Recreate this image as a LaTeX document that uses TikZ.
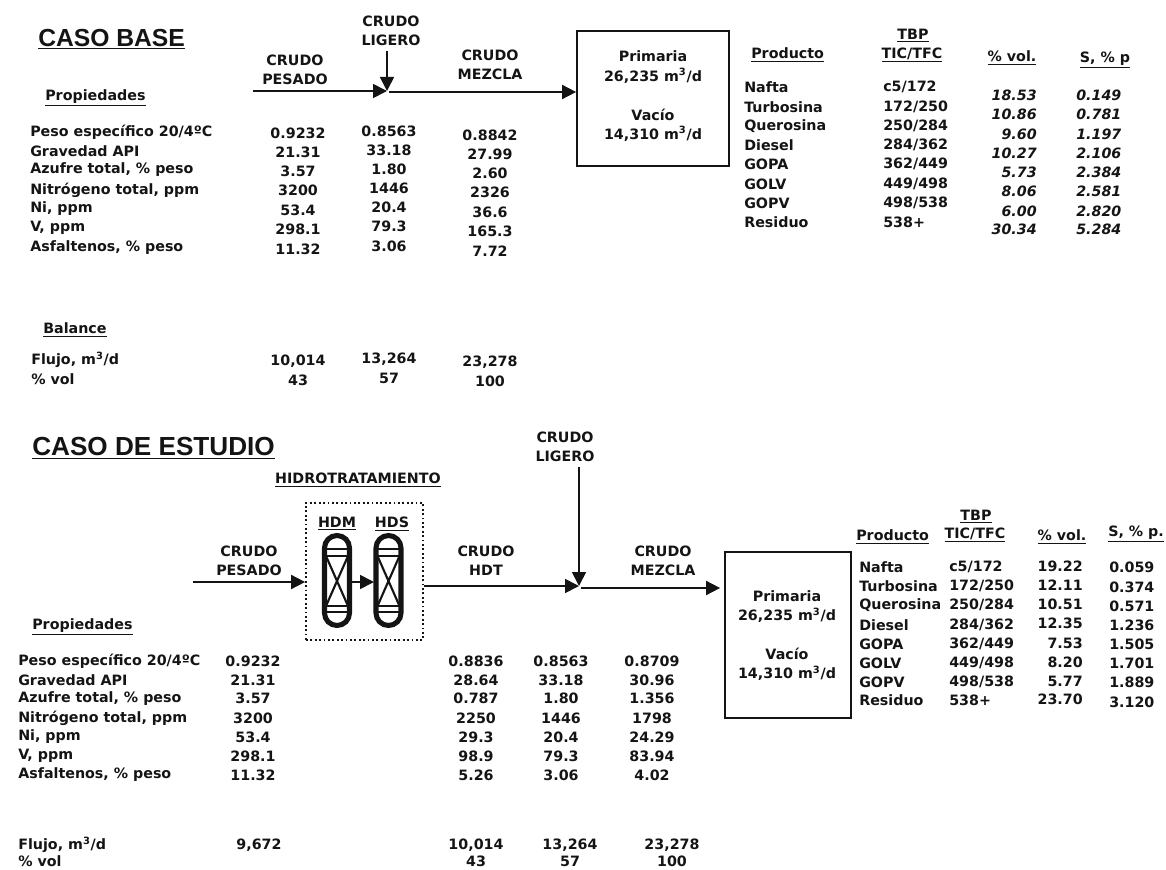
\documentclass[tikz,border=0pt]{standalone}
\usepackage{fontspec}
\setmainfont{DejaVu Sans}
\newfontfamily\headfont{Liberation Sans}
\usetikzlibrary{arrows.meta}
\definecolor{ink}{gray}{0.08}
\tikzset{
  txt/.style={inner sep=0pt,text=ink,font=\bfseries\fontsize{10.7}{12}\selectfont},
  lft/.style={txt,anchor=west},
  ctr/.style={txt,anchor=center},
  rgt/.style={txt,anchor=east},
  ital/.style={font=\bfseries\itshape\fontsize{10.7}{12}\selectfont},
  flow/.style={draw=ink,line width=1.3pt,-{Triangle[length=10.5pt,width=10.5pt]}},
  unitbox/.style={draw=ink,line width=1.3pt,fill=white,inner sep=0pt},
  title/.style={lft,font=\headfont\bfseries\fontsize{18.5}{20}\selectfont},
  two/.style={ctr,align=center,font=\bfseries\fontsize{10.7}{14.4}\selectfont},
  wall/.style={draw=ink,line width=3.8pt,rounded corners=9.4pt},
  fillbar/.style={draw=ink,line width=1.5pt},
}
\newcommand{\vessel}[1]{%
  \draw[wall] (#1-12.5,535.5) rectangle (#1+12.5,625.5);
  \draw[fillbar] (#1-12,549) -- (#1+12,549) (#1-12,556) -- (#1+12,556);
  \draw[fillbar] (#1-12,606) -- (#1+12,606) (#1-12,612) -- (#1+12,612);
  \draw[fillbar,line width=1.6pt] (#1-11,556) -- (#1+11,606) (#1+11,556) -- (#1-11,606);
}
\begin{document}
\begin{tikzpicture}[x=0.75pt,y=-0.75pt]
\useasboundingbox (0,0) rectangle (1166,870);
% ---------- CASO BASE
\node[title] (t1) at (38,39) {\underline{CASO BASE}};
\node[lft] (p1) at (45,98) {\underline{Propiedades}};
\foreach \y/\s [count=\i] in {132/{Peso específico 20/4ºC},151/Gravedad API,170/{Azufre total, \% peso},190/{Nitrógeno total, ppm},209/{Ni, ppm},228/{V, ppm},248/{Asfaltenos, \% peso}}
  \node[lft] (la\i) at (30,\y) {\s};
\foreach \y/\s [count=\i] in {133/0.9232,152/21.31,171/3.57,190/3200,210/53.4,229/298.1,249/11.32,361/{10,014},380/43}
  \node[ctr] (ca\i) at (298,\y) {\s};
\foreach \y/\s [count=\i] in {131/0.8563,150/33.18,169/1.80,188/1446,207/20.4,226/79.3,246/3.06,359/{13,264},378/57}
  \node[ctr] (cb\i) at (389,\y) {\s};
\foreach \y/\s [count=\i] in {135/0.8842,154/27.99,173/2.60,192/2326,212/36.6,231/165.3,251/7.72,362/{23,278},381/100}
  \node[ctr] (cc\i) at (490,\y) {\s};
\node[lft] (b1) at (43,330) {\underline{Balance}};
\node[lft] (b2) at (31,360) {Flujo, m\textsuperscript{3}/d};
\node[lft] (b3) at (31,379) {\% vol};
\node[two] (n1) at (295,70) {CRUDO\\PESADO};
\node[two] (n2) at (391,31) {CRUDO\\LIGERO};
\node[two] (n3) at (490,65) {CRUDO\\MEZCLA};
\node[unitbox,minimum width=152*0.75pt,minimum height=135*0.75pt] (u1) at (653,98.5) {};
\node[two] (u1a) at (653,67) {Primaria\\26,235 m\textsuperscript{3}/d};
\node[two] (u1b) at (653,125) {Vacío\\14,310 m\textsuperscript{3}/d};
\coordinate (s1) at (253,91);
\coordinate (m1) at (387,91);
\coordinate (l1) at (387,51);
\coordinate (o1) at (389,92);
\draw[flow] (s1) -- (m1);
\draw[flow] (l1) -- (m1);
\draw[flow] (o1) -- (u1.west |- o1);
\node[lft] (h1) at (751,55) {\underline{Producto}};
\node[ctr] (h2) at (913,36) {\underline{TBP}};
\node[ctr] (h3) at (912,55) {\underline{TIC/TFC}};
\node[ctr] (h4) at (1012,58) {\underline{\% vol.}};
\node[ctr] (h5) at (1105,60) {\underline{S, \% p}};
\foreach \y/\a/\t [count=\i] in {87/Nafta/{c5/172},107/Turbosina/{172/250},126/Querosina/{250/284},145/Diesel/{284/362},164/GOPA/{362/449},184/GOLV/{449/498},203/GOPV/{498/538},222/Residuo/538+}
  {\node[lft] (na\i) at (744,\y) {\a};
   \node[lft] (ta\i) at (883,\y) {\t};}
\foreach \y/\a/\b [count=\i] in {95/18.53/0.149,114/10.86/0.781,134/9.60/1.197,153/10.27/2.106,172/5.73/2.384,191/8.06/2.581,211/6.00/2.820,229/30.34/5.284}
  {\node[rgt,ital] (va\i) at (1037,\y) {\a};
   \node[lft,ital] (sa\i) at (1076,\y) {\b};}
% ---------- CASO DE ESTUDIO
\node[title,font=\headfont\bfseries\fontsize{19.6}{20}\selectfont] (t2) at (32,448) {\underline{CASO DE ESTUDIO}};
\node[ctr] (hy) at (358,480) {\underline{HIDROTRATAMIENTO}};
\node[draw=ink,dotted,line width=1.3pt,inner sep=0pt,minimum width=117*0.75pt,minimum height=137*0.75pt] (dot) at (364.5,571.5) {};
\node[ctr] (hdm) at (337,524) {\underline{HDM}};
\node[ctr] (hds) at (392,524) {\underline{HDS}};
\vessel{337}
\vessel{388.5}
\coordinate (v1) at (352,582);
\coordinate (v2) at (374,582);
\draw[flow] (v1) -- (v2);
\node[two] (n4) at (249,561) {CRUDO\\PESADO};
\node[two] (n5) at (486,561) {CRUDO\\HDT};
\node[two] (n6) at (565,447) {CRUDO\\LIGERO};
\node[two] (n7) at (663,561) {CRUDO\\MEZCLA};
\coordinate (s2) at (193,582);
\coordinate (m2) at (579,586);
\coordinate (l2) at (579,467);
\coordinate (o2) at (581,588);
\draw[flow] (s2) -- (dot.west |- s2);
\draw[flow] (dot.east |- m2) -- (m2);
\draw[flow] (l2) -- (m2);
\node[unitbox,minimum width=126*0.75pt,minimum height=166*0.75pt] (u2) at (788,635) {};
\draw[flow] (o2) -- ([xshift=-3pt]u2.west |- o2);
\node[two] (u2a) at (787,606.5) {Primaria\\26,235 m\textsuperscript{3}/d};
\node[two] (u2b) at (787,664) {Vacío\\14,310 m\textsuperscript{3}/d};
\node[lft] (p2) at (32,627) {\underline{Propiedades}};
\foreach \y/\s [count=\i] in {661/{Peso específico 20/4ºC},680/Gravedad API,699/{Azufre total, \% peso},718/{Nitrógeno total, ppm},737/{Ni, ppm},756/{V, ppm},775/{Asfaltenos, \% peso},845/{Flujo, m\textsuperscript{3}/d},861/\% vol}
  \node[lft] (lb\i) at (18,\y) {\s};
\foreach \y/\s [count=\i] in {661/0.9232,680/21.31,698/3.57,718/3200,737/53.4,756/298.1,775/11.32}
  \node[ctr] (da\i) at (253,\y) {\s};
\node[ctr] (da8) at (259,845) {9,672};
\foreach \y/\s [count=\i] in {661/0.8836,680/28.64,698/0.787,718/2250,737/29.3,756/98.9,775/5.26,845/{10,014},861/43}
  \node[ctr] (db\i) at (476,\y) {\s};
\foreach \y/\s [count=\i] in {661/0.8563,680/33.18,698/1.80,718/1446,737/20.4,756/79.3,775/3.06}
  \node[ctr] (dc\i) at (561,\y) {\s};
\node[ctr] (dc8) at (570,845) {13,264};
\node[ctr] (dc9) at (570,861) {57};
\foreach \y/\s [count=\i] in {661/0.8709,680/30.96,698/1.356,718/1798,737/24.29,756/83.94,775/4.02}
  \node[ctr] (dd\i) at (652,\y) {\s};
\node[ctr] (dd8) at (672,845) {23,278};
\node[ctr] (dd9) at (672,861) {100};
\node[lft] (h6) at (856,537) {\underline{Producto}};
\node[ctr] (h7) at (976,517) {\underline{TBP}};
\node[ctr] (h8) at (975,535) {\underline{TIC/TFC}};
\node[ctr] (h9) at (1062,537) {\underline{\% vol.}};
\node[lft] (h10) at (1108,534) {\underline{S, \% p.}};
\foreach \y/\a/\t/\yv/\v/\ys/\s [count=\i] in {567/Nafta/{c5/172}/566/19.22/567/0.059,586/Turbosina/{172/250}/585/12.11/587/0.374,605/Querosina/{250/284}/604/10.51/606/0.571,625/Diesel/{284/362}/623/12.35/625/1.236,644/GOPA/{362/449}/643/7.53/644/1.505,663/GOLV/{449/498}/662/8.20/663/1.701,682/GOPV/{498/538}/681/5.77/682/1.889,700/Residuo/538+/699/23.70/702/3.120}
  {\node[lft] (nb\i) at (859,\y) {\a};
   \node[lft] (tb\i) at (949,\y) {\t};
   \node[rgt] (vb\i) at (1083,\yv) {\v};
   \node[lft] (sb\i) at (1109,\ys) {\s};}
\end{tikzpicture}
\end{document}
